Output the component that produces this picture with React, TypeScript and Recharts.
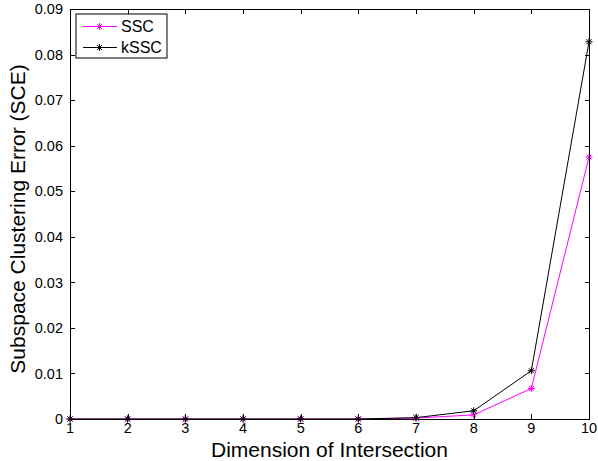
import React from "react";
import { LineChart, Line, XAxis, YAxis, Label } from "recharts";

const dims = [1, 2, 3, 4, 5, 6, 7, 8, 9, 10];
const sscErr = [0, 0, 0, 0, 0, 0, 0.0002, 0.0009, 0.0067, 0.0575];
const ksscErr = [0, 0, 0, 0, 0, 0, 0.0003, 0.0018, 0.0106, 0.0828];
const yTicks = [0, 0.01, 0.02, 0.03, 0.04, 0.05, 0.06, 0.07, 0.08, 0.09];

const series = [
  { key: "ssc", name: "SSC", color: "#ff00ff" },
  { key: "kssc", name: "kSSC", color: "#000000" },
];

const data = dims.map((d, i) => ({ dim: d, ssc: sscErr[i], kssc: ksscErr[i] }));

const FONT = "'Liberation Sans', Arial, Helvetica, sans-serif";

const X_DOMAIN = [1, 10];
const Y_DOMAIN = [0, 0.09];

const WIDTH = 598;
const HEIGHT = 461;
const MARGIN = { top: 9, right: 9, left: 0, bottom: 0 };
const Y_AXIS_W = 70;
const X_AXIS_H = 42;
const PLOT_X = MARGIN.left + Y_AXIS_W;
const PLOT_Y = MARGIN.top;
const PLOT_W = WIDTH - Y_AXIS_W - MARGIN.left - MARGIN.right;
const PLOT_H = HEIGHT - X_AXIS_H - MARGIN.top - MARGIN.bottom;

const TICK_LEN = 5;

function Star({ cx, cy, stroke }: any) {
  if (cx == null || cy == null) return null;
  const r = 3.5;
  const d = r * 0.72;
  return (
    <g stroke={stroke} strokeWidth={1}>
      <line x1={cx - r} y1={cy} x2={cx + r} y2={cy} />
      <line x1={cx} y1={cy - r} x2={cx} y2={cy + r} />
      <line x1={cx - d} y1={cy - d} x2={cx + d} y2={cy + d} />
      <line x1={cx - d} y1={cy + d} x2={cx + d} y2={cy - d} />
    </g>
  );
}

function BottomTick({ x, y, payload }: any) {
  return (
    <text x={x} y={y} dy="0.72em" textAnchor="middle" fontSize={14.5} fontFamily={FONT} fill="#000">
      {payload.value}
    </text>
  );
}

function LeftTick({ x, y, payload }: any) {
  const v = payload.value;
  return (
    <text x={x} y={y} dy="0.36em" textAnchor="end" fontSize={14.5} fontFamily={FONT} fill="#000">
      {v === 0 ? "0" : v.toFixed(2)}
    </text>
  );
}

const sx = (d: number) => PLOT_X + ((d - X_DOMAIN[0]) / (X_DOMAIN[1] - X_DOMAIN[0])) * PLOT_W;
const sy = (v: number) => PLOT_Y + PLOT_H - ((v - Y_DOMAIN[0]) / (Y_DOMAIN[1] - Y_DOMAIN[0])) * PLOT_H;

// axes box with inward ticks on all four sides, built from plain divs
function AxesFrame() {
  const bar = (key: string, left: number, top: number, w: number, h: number) => (
    <div
      key={key}
      style={{ position: "absolute", left, top, width: w, height: h, background: "#000" }}
    />
  );
  const bottom = PLOT_Y + PLOT_H;
  const right = PLOT_X + PLOT_W;
  return (
    <div style={{ position: "absolute", left: 0, top: 0, width: WIDTH, height: HEIGHT, pointerEvents: "none" }}>
      {bar("top", PLOT_X, PLOT_Y, PLOT_W + 1, 1)}
      {bar("right", right, PLOT_Y, 1, PLOT_H + 1)}
      {bar("bottom", PLOT_X, bottom, PLOT_W + 1, 1)}
      {bar("left", PLOT_X, PLOT_Y, 1, PLOT_H + 1)}
      {dims.map((d) => (
        <React.Fragment key={`x${d}`}>
          {bar(`xb${d}`, Math.round(sx(d)), bottom - TICK_LEN, 1, TICK_LEN)}
          {bar(`xt${d}`, Math.round(sx(d)), PLOT_Y, 1, TICK_LEN)}
        </React.Fragment>
      ))}
      {yTicks.map((v) => (
        <React.Fragment key={`y${v}`}>
          {bar(`yl${v}`, PLOT_X, Math.round(sy(v)), TICK_LEN, 1)}
          {bar(`yr${v}`, right - TICK_LEN + 1, Math.round(sy(v)), TICK_LEN, 1)}
        </React.Fragment>
      ))}
    </div>
  );
}

function LegendBox() {
  return (
    <svg width={93} height={46} style={{ position: "absolute", left: 75, top: 13 }}>
      <rect x={1} y={1} width={91} height={44} fill="#fff" stroke="#000" />
      {series.map((s, i) => {
        const y = 13.5 + i * 21;
        return (
          <g key={s.key}>
            <line x1={8} y1={y} x2={42} y2={y} stroke={s.color} />
            <Star cx={24.5} cy={y} stroke={s.color} />
            <text x={46} y={y} dy="0.36em" fontSize={16} fontFamily={FONT} fill="#000">
              {s.name}
            </text>
          </g>
        );
      })}
    </svg>
  );
}

export default function App() {
  return (
    <div style={{ position: "fixed", left: 0, top: 0, width: WIDTH, height: HEIGHT, background: "#fff" }}>
      <LineChart width={WIDTH} height={HEIGHT} data={data} margin={MARGIN}>
        <XAxis
          dataKey="dim"
          type="number"
          domain={X_DOMAIN}
          ticks={dims}
          height={X_AXIS_H}
          tickSize={0}
          tickMargin={4}
          tick={<BottomTick />}
          axisLine={false}
          interval={0}
        >
          <Label
            content={({ viewBox }: any) => (
              <text
                x={viewBox.x + viewBox.width / 2}
                y={viewBox.y + 38}
                textAnchor="middle"
                fontSize={21}
                fontFamily={FONT}
                fill="#000"
              >
                Dimension of Intersection
              </text>
            )}
          />
        </XAxis>
        <YAxis
          type="number"
          domain={Y_DOMAIN}
          ticks={yTicks}
          width={Y_AXIS_W}
          tickSize={0}
          tickMargin={7}
          tick={<LeftTick />}
          axisLine={false}
          interval={0}
        >
          <Label
            content={({ viewBox }: any) => {
              const cx = viewBox.x + 25;
              const cy = viewBox.y + viewBox.height / 2 + 5;
              return (
                <text
                  x={cx}
                  y={cy}
                  transform={`rotate(-90 ${cx} ${cy})`}
                  textAnchor="middle"
                  fontSize={21}
                  fontFamily={FONT}
                  fill="#000"
                >
                  Subspace Clustering Error (SCE)
                </text>
              );
            }}
          />
        </YAxis>
        {series.map((s) => (
          <Line
            key={s.key}
            dataKey={s.key}
            name={s.name}
            stroke={s.color}
            strokeWidth={1}
            type="linear"
            dot={<Star />}
            activeDot={false}
            isAnimationActive={false}
          />
        ))}
      </LineChart>
      <AxesFrame />
      <LegendBox />
    </div>
  );
}
